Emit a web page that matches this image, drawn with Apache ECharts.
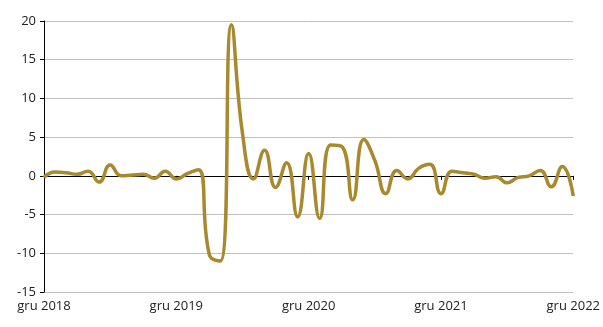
<!DOCTYPE html>
<html>
<head>
<meta charset="utf-8">
<script src="https://cdn.jsdelivr.net/npm/echarts@6/dist/echarts.min.js"></script>
<style>
  html, body { margin: 0; padding: 0; background: #fff; }
  #chart { width: 603px; height: 327px; }
</style>
</head>
<body>
<div id="chart"></div>
<script>
// monthly change, gru 2018 .. gru 2022
var monthNames = ['sty', 'lut', 'mar', 'kwi', 'maj', 'cze', 'lip', 'sie', 'wrz', 'paź', 'lis', 'gru'];
var years = [2018, 2019, 2020, 2021, 2022];
var values = [
    -0.2, 0.5, 0.4, 0.2, 0.6, -0.8, 1.4, 0.0, 0.1, 0.2, -0.3, 0.6,
    -0.4, 0.3, 0.8, -10.2, -11.0, 19.5, 5.5, -0.4, 3.3, -1.5, 1.7, -5.3,
    2.9, -5.5, 4.0, 3.8, -3.1, 4.7, 2.0, -2.3, 0.7, -0.4, 1.0, 1.5,
    -2.3, 0.6, 0.4, 0.2, -0.3, -0.1, -0.9, -0.2, 0.0, 0.7, -1.4, 1.2,
    -2.6
];
var yTicks = [-15, -10, -5, 0, 5, 10, 15, 20];

var categories = ['gru ' + years[0]];
for (let y = 1; y < years.length; y++) {
    for (let m = 0; m < 12; m++) {
        categories.push(monthNames[m] + ' ' + years[y]);
    }
}

var isYearEnd = function (idx) { return idx % 12 === 0; };
var font = '"Open Sans", "Noto Sans", sans-serif';

var chart = echarts.init(document.getElementById('chart'));
chart.setOption({
    animation: false,
    grid: { left: 44, right: 28, top: 21, bottom: 35, containLabel: false },
    xAxis: [{
        type: 'category',
        data: categories,
        boundaryGap: false,
        position: 'top',
        axisLine: { onZero: true, lineStyle: { color: '#000', width: 1 } },
        axisTick: { show: true, inside: true, length: 4, interval: isYearEnd, lineStyle: { color: '#000' } },
        axisLabel: { show: false },
        splitLine: { show: false }
    }, {
        type: 'category',
        data: categories,
        boundaryGap: false,
        position: 'bottom',
        axisLine: { show: false, onZero: false },
        axisTick: { show: false },
        axisLabel: {
            interval: isYearEnd,
            color: '#222',
            fontSize: 13,
            fontFamily: font,
            margin: 8,
            formatter: function (v) { return v; }
        },
        splitLine: { show: false }
    }],
    yAxis: {
        type: 'value',
        min: yTicks[0],
        max: yTicks[yTicks.length - 1],
        interval: 5,
        axisLine: { show: true, lineStyle: { color: '#000' } },
        axisTick: { show: true, length: 4, lineStyle: { color: '#000' } },
        axisLabel: { color: '#222', fontSize: 13, fontFamily: font, margin: 8 },
        splitLine: { lineStyle: { color: '#c0c0c0', width: 1 } }
    },
    series: [{
        type: 'line',
        xAxisIndex: 0,
        data: values,
        smooth: 0.5,
        symbol: 'none',
        lineStyle: { color: '#a8892e', width: 3.5 },
        z: 3
    }]
});
</script>
</body>
</html>
